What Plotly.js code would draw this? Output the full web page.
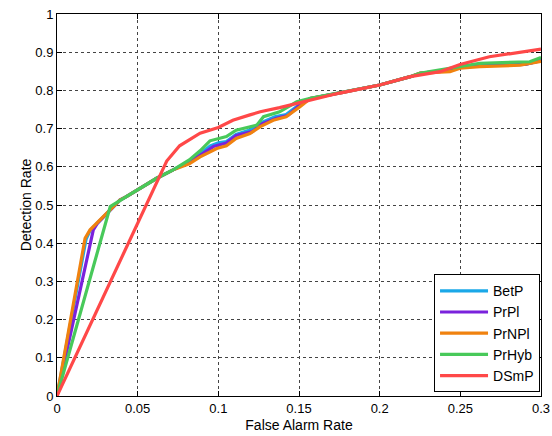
<!DOCTYPE html>
<html><head><meta charset="utf-8">
<script src="https://cdn.plot.ly/plotly-3.0.1.min.js"></script>
<style>html,body{margin:0;padding:0;background:#fff}#c{width:552px;height:436px}</style>
</head><body><div id="c"></div>
<script>
const names = ["BetP","PrPl","PrNPl","PrHyb","DSmP"];
const colors = ["#1aa8e8","#7a22dc","#f0820f","#48c95a","#ff4848"];

const betpX = [0,0.018,0.0205,0.025,0.03,0.039,0.043,0.0515,0.0618,0.072,0.082,0.0887,0.095,0.1,0.105,0.111,0.12,0.127,0.135,0.142,0.15,0.157,0.175,0.2,0.219,0.225,0.24,0.25,0.262,0.29,0.3];
const betpY = [0,0.41,0.433,0.452,0.474,0.513,0.522,0.544,0.57,0.592,0.614,0.634,0.655,0.663,0.666,0.685,0.697,0.716,0.731,0.737,0.762,0.779,0.793,0.814,0.836,0.845,0.852,0.860,0.866,0.868,0.878];

const prplX = [0,0.0225,0.025,0.03,0.039,0.043,0.0515,0.0618,0.072,0.082,0.0887,0.097,0.105,0.111,0.121,0.127,0.136,0.143,0.15,0.157,0.175,0.2,0.219,0.225,0.24,0.25,0.262,0.29,0.3];
const prplY = [0,0.435,0.452,0.474,0.513,0.522,0.544,0.57,0.592,0.612,0.630,0.653,0.662,0.682,0.692,0.712,0.727,0.734,0.760,0.779,0.793,0.814,0.836,0.845,0.852,0.860,0.867,0.868,0.878];

const prnplX = [0,0.0174,0.0205,0.0246,0.0298,0.039,0.043,0.0515,0.0618,0.072,0.082,0.0887,0.099,0.105,0.111,0.1196,0.126,0.134,0.142,0.1506,0.157,0.175,0.2,0.219,0.225,0.2436,0.2498,0.262,0.287,0.3];
const prnplY = [0,0.413,0.435,0.452,0.474,0.513,0.522,0.544,0.57,0.592,0.608,0.626,0.648,0.655,0.674,0.687,0.705,0.722,0.731,0.757,0.779,0.793,0.814,0.836,0.845,0.849,0.858,0.862,0.866,0.876];

const prhybX = [0,0.033,0.043,0.0515,0.0618,0.072,0.082,0.0887,0.0948,0.105,0.111,0.1238,0.128,0.138,0.1486,0.157,0.175,0.2,0.219,0.225,0.231,0.2498,0.262,0.293,0.3];
const prhybY = [0,0.496,0.522,0.544,0.57,0.592,0.618,0.642,0.668,0.679,0.696,0.709,0.731,0.744,0.770,0.779,0.793,0.814,0.836,0.845,0.849,0.862,0.871,0.875,0.886];

const dsmpX = [0,0.068,0.076,0.0887,0.1,0.109,0.1196,0.126,0.138,0.1486,0.157,0.175,0.2,0.219,0.2374,0.2498,0.268,0.287,0.3];
const dsmpY = [0,0.615,0.655,0.688,0.703,0.722,0.736,0.744,0.755,0.766,0.776,0.793,0.814,0.836,0.849,0.868,0.888,0.900,0.908];

const xTicks = [0,0.05,0.1,0.15,0.2,0.25,0.3];
const xTickText = ["0","0.05","0.1","0.15","0.2","0.25","0.3"];
const yTicks = [0,0.1,0.2,0.3,0.4,0.5,0.6,0.7,0.8,0.9,1];
const yTickText = ["0","0.1","0.2","0.3","0.4","0.5","0.6","0.7","0.8","0.9","1"];

const xs = [betpX,prplX,prnplX,prhybX,dsmpX];
const ys = [betpY,prplY,prnplY,prhybY,dsmpY];
const traces = names.map((n,i)=>({x:xs[i],y:ys[i],name:n,type:"scatter",mode:"lines",
  line:{color:colors[i],width:3.2}}));

const ax = {showline:true,mirror:"ticks",linecolor:"#000",linewidth:1,ticks:"inside",ticklen:5,
  tickcolor:"#000",showgrid:true,gridcolor:"#444",griddash:"dot",gridwidth:1,zeroline:false,
  tickfont:{family:"Liberation Sans, Arial, sans-serif",size:13,color:"#000"}};

const layout = {
  width:552,height:436,paper_bgcolor:"#fff",plot_bgcolor:"#fff",
  margin:{l:57,r:11,t:14,b:40},
  font:{family:"Liberation Sans, Arial, sans-serif",color:"#000"},
  xaxis:Object.assign({},ax,{range:[0,0.3],tickvals:xTicks,ticktext:xTickText,
    title:{text:"False Alarm Rate",font:{size:14},standoff:5}}),
  yaxis:Object.assign({},ax,{range:[0,1],tickvals:yTicks,ticktext:yTickText,
    title:{text:"Detection Rate",font:{size:14},standoff:0}}),
  showlegend:true,
  legend:{x:0.998,xanchor:"right",y:0.01,yanchor:"bottom",bgcolor:"#fff",bordercolor:"#000",borderwidth:1,
    font:{size:14,color:"#000"},traceorder:"normal",itemwidth:48}
};
Plotly.newPlot("c",traces,layout,{displayModeBar:false,staticPlot:true});
</script></body></html>
